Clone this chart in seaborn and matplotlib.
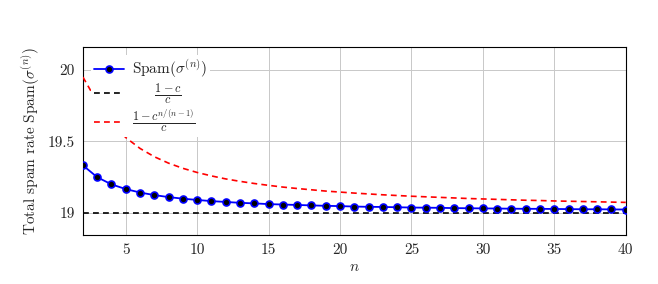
import matplotlib
matplotlib.use("Agg")
import matplotlib.pyplot as plt
import seaborn as sns
import pandas as pd

n_values = list(range(2, 41))
spam_values = [19.333, 19.250, 19.200, 19.167, 19.143, 19.125, 19.111, 19.100, 19.091,
               19.083, 19.077, 19.071, 19.067, 19.062, 19.059, 19.056, 19.053, 19.050,
               19.048, 19.045, 19.043, 19.042, 19.040, 19.038, 19.037, 19.036, 19.034,
               19.033, 19.032, 19.031, 19.030, 19.029, 19.029, 19.028, 19.027, 19.026,
               19.026, 19.025, 19.024]
lower_bound = [19.0] * len(n_values)
upper_bound = [19.950, 19.776, 19.632, 19.527, 19.451, 19.393, 19.348, 19.312, 19.283,
               19.259, 19.238, 19.221, 19.206, 19.193, 19.181, 19.171, 19.162, 19.153,
               19.146, 19.139, 19.133, 19.127, 19.122, 19.117, 19.113, 19.109, 19.105,
               19.101, 19.098, 19.095, 19.092, 19.089, 19.087, 19.084, 19.082, 19.080,
               19.078, 19.076, 19.074]
x_ticks = [5, 10, 15, 20, 25, 30, 35, 40]
y_ticks = [19, 19.5, 20]
y_tick_labels = ["19", "19.5", "20"]

sns.set_theme(style="whitegrid")
plt.rcParams["font.family"] = ["cmr10", "DejaVu Serif"]
plt.rcParams["mathtext.fontset"] = "cm"
plt.rcParams["axes.formatter.use_mathtext"] = True

df = pd.DataFrame({"n": n_values, "spam": spam_values,
                   "low": lower_bound, "up": upper_bound})

fig = plt.figure(figsize=(6.58, 2.84), dpi=100)
ax = fig.add_axes([0.126, 0.1725, 0.825, 0.662])

sns.lineplot(data=df, x="n", y="spam", ax=ax, color="#0000ff", lw=1.3,
             marker="o", markersize=5, markerfacecolor="black",
             markeredgecolor="#0000ff", markeredgewidth=1.2,
             label=r"Spam$(\sigma^{(n)})$", zorder=4)
sns.lineplot(data=df, x="n", y="low", ax=ax, color="black", lw=1.2,
             dashes=False, label=r"$\quad\enspace\frac{1-c}{c}$", zorder=3)
ax.lines[-1].set_linestyle((0, (3.5, 2.5)))
sns.lineplot(data=df, x="n", y="up", ax=ax, color="#ff0000", lw=1.2,
             label=r"$\frac{1-c^{n/(n-1)}}{c}$", zorder=3)
ax.lines[-1].set_linestyle((0, (3.5, 2.5)))

ax.set_xlim(2, 40)
ax.set_ylim(18.846, 20.16)
ax.set_xticks(x_ticks)
ax.set_xticklabels([str(t) for t in x_ticks])
ax.set_yticks(y_ticks)
ax.set_yticklabels(y_tick_labels)
ax.tick_params(axis="both", direction="in", length=3, width=0.6, color="black",
               labelsize=11, pad=6)
ax.set_xlabel(r"$n$", fontsize=11, labelpad=2)
ax.set_ylabel(r"Total spam rate Spam$(\sigma^{(n)})$", fontsize=11, labelpad=4)

ax.set_facecolor("white")
ax.grid(True, color="#c8c8c8", lw=0.7)
for s in ax.spines.values():
    s.set_visible(True)
    s.set_color("black")
    s.set_linewidth(0.8)

leg = ax.legend(loc="upper left", fontsize=11, frameon=True, fancybox=False,
                framealpha=1, edgecolor="white", borderpad=0.2,
                labelspacing=0.1, handlelength=2.0, handletextpad=0.5,
                bbox_to_anchor=(0.0, 1.0))
leg.get_frame().set_linewidth(0)
texts = leg.get_texts()
texts[1].set_fontsize(12.5)
texts[2].set_fontsize(12.5)

fig.savefig("out.png", dpi=100)
